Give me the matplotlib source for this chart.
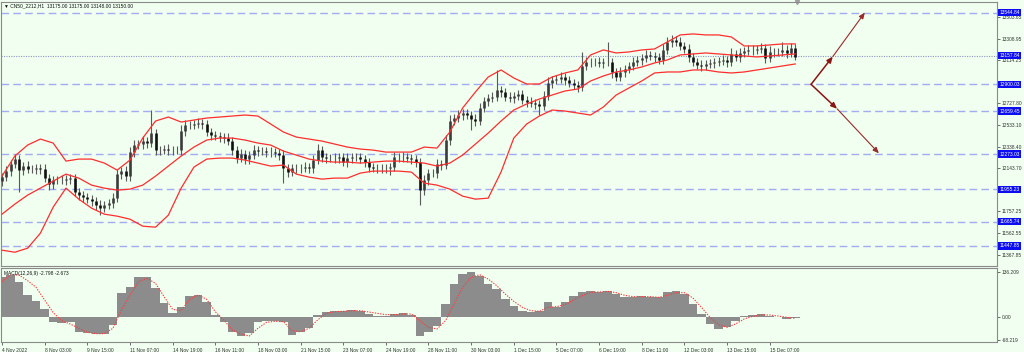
import numpy as np
import matplotlib.pyplot as plt
import matplotlib.transforms as mtrans

plt.rcParams['font.family'] = ['Liberation Sans', 'DejaVu Sans']

# ---- data (CN50_2212, H1, shown as 4-hour steps) ----
open0 = 12030
closes = [
    12066, 12120, 12183, 12228, 12129, 12165, 12138, 12138, 12147, 12138,
    12057, 12003, 12039, 12039, 12039, 12048, 12057, 11931, 11904, 11886,
    11868, 11850, 11814, 11787, 11814, 11832, 11877, 12093, 12120, 12075,
    12291, 12354, 12363, 12390, 12372, 12462, 12309, 12309, 12318, 12309,
    12309, 12309, 12480, 12534, 12534, 12543, 12552, 12543, 12471, 12444,
    12435, 12426, 12417, 12390, 12309, 12237, 12273, 12228, 12264, 12309,
    12300, 12300, 12291, 12291, 12282, 12264, 12147, 12111, 12147, 12147,
    12147, 12156, 12147, 12219, 12309, 12246, 12237, 12237, 12237, 12246,
    12201, 12237, 12246, 12246, 12228, 12201, 12156, 12147, 12147, 12147,
    12147, 12156, 12246, 12246, 12246, 12237, 12228, 12201, 11949, 12039,
    12102, 12102, 12183, 12174, 12399, 12570, 12597, 12624, 12642, 12624,
    12588, 12570, 12687, 12750, 12777, 12786, 12849, 12831, 12786, 12777,
    12795, 12813, 12759, 12741, 12732, 12723, 12705, 12795, 12912, 12939,
    12948, 12966, 12939, 12912, 12894, 12876, 13065, 13101, 13101, 13101,
    13092, 13101, 13101, 13011, 12966, 13011, 13038, 13065, 13101, 13119,
    13137, 13164, 13155, 13146, 13119, 13209, 13281, 13299, 13281, 13245,
    13218, 13146, 13101, 13074, 13065, 13083, 13092, 13101, 13110, 13119,
    13101, 13173, 13146, 13182, 13200, 13209, 13209, 13218, 13227, 13137,
    13191, 13191, 13191, 13209, 13182, 13227, 13150]
wick_up = [
    38, 42, 35, 45, 40, 38, 44, 35, 40, 38,
    42, 35, 40, 38, 45, 35, 38, 40, 35, 38,
    40, 35, 38, 42, 35, 40, 45, 50, 38, 45,
    50, 42, 38, 45, 40, 207, 35, 40, 38, 42,
    35, 40, 50, 45, 40, 38, 42, 40, 35, 38,
    40, 35, 38, 42, 40, 35, 45, 38, 40, 42,
    35, 40, 38, 42, 35, 40, 45, 38, 35, 40,
    38, 42, 35, 50, 56, 40, 38, 35, 42, 40,
    38, 45, 40, 35, 38, 40, 35, 38, 40, 35,
    38, 40, 50, 38, 42, 35, 38, 40, 35, 45,
    40, 38, 42, 40, 45, 50, 40, 42, 38, 40,
    35, 42, 45, 40, 38, 42, 180, 40, 38, 42,
    40, 35, 38, 40, 42, 35, 38, 45, 50, 40,
    38, 42, 40, 35, 38, 40, 126, 45, 40, 38,
    42, 40, 180, 38, 40, 42, 38, 40, 45, 38,
    40, 42, 38, 35, 40, 50, 45, 42, 38, 40,
    38, 40, 35, 38, 42, 40, 38, 35, 40, 42,
    38, 50, 40, 45, 38, 40, 42, 38, 40, 35,
    50, 40, 38, 72, 40, 45, 38]
wick_dn = [
    40, 35, 42, 38, 200, 40, 35, 38, 42, 40,
    38, 55, 40, 35, 38, 42, 40, 38, 45, 40,
    38, 42, 40, 63, 38, 35, 40, 38, 42, 40,
    45, 40, 38, 42, 40, 38, 45, 40, 38, 42,
    40, 38, 42, 40, 38, 35, 40, 42, 38, 40,
    38, 40, 42, 38, 45, 40, 38, 42, 40, 38,
    40, 38, 42, 40, 38, 45, 135, 40, 38, 42,
    40, 38, 42, 40, 38, 45, 40, 38, 42, 40,
    38, 42, 40, 38, 35, 40, 42, 38, 40, 42,
    40, 63, 38, 42, 40, 38, 42, 40, 135, 45,
    40, 38, 42, 40, 38, 42, 40, 38, 45, 40,
    99, 42, 40, 38, 42, 40, 38, 42, 40, 38,
    42, 40, 38, 45, 40, 42, 81, 40, 38, 42,
    40, 38, 42, 40, 38, 45, 40, 38, 42, 40,
    38, 42, 40, 54, 40, 38, 42, 40, 38, 40,
    42, 40, 38, 42, 40, 40, 38, 42, 40, 38,
    40, 42, 38, 40, 42, 38, 40, 42, 38, 40,
    42, 38, 40, 42, 38, 40, 42, 38, 40, 45,
    40, 42, 38, 40, 42, 38, 31]

# Bollinger bands (20, 2), one value every 3 steps
bb_upper = [
    12075, 12255, 12354, 12408, 12372, 12210, 12228, 12228, 12192, 12129,
    12219, 12417, 12570, 12606, 12561, 12579, 12597, 12606, 12615, 12624,
    12615, 12543, 12471, 12426, 12408, 12390, 12363, 12336, 12318, 12309,
    12291, 12291, 12291, 12336, 12327, 12471, 12687, 12831, 12966, 13029,
    12957, 12903, 12903, 12966, 13002, 13029, 13164, 13209, 13182, 13191,
    13209, 13218, 13281, 13344, 13353, 13344, 13344, 13326, 13245, 13245,
    13254, 13263, 13263]
bb_mid = [
    11733, 11823, 11904, 11967, 12030, 12093, 12057, 11994, 11967, 11949,
    11958, 11994, 12075, 12165, 12255, 12336, 12399, 12417, 12417, 12399,
    12372, 12354, 12300, 12264, 12228, 12210, 12201, 12201, 12192, 12201,
    12210, 12210, 12201, 12192, 12165, 12192, 12264, 12363, 12462, 12570,
    12669, 12723, 12768, 12804, 12840, 12858, 12930, 12975, 13011, 13029,
    13056, 13092, 13119, 13164, 13173, 13182, 13173, 13164, 13155, 13146,
    13155, 13164, 13173]
bb_lower = [
    11409, 11391, 11427, 11562, 11796, 11967, 11868, 11787, 11733, 11715,
    11688, 11625, 11616, 11724, 11967, 12156, 12228, 12237, 12237, 12219,
    12192, 12165, 12174, 12093, 12066, 12048, 12057, 12057, 12102, 12120,
    12120, 12120, 12111, 12012, 11994, 11958, 11895, 11868, 11877, 12111,
    12417, 12543, 12615, 12669, 12660, 12642, 12624, 12696, 12804, 12867,
    12930, 13002, 13011, 13011, 13029, 13029, 13011, 13002, 13011, 13029,
    13047, 13065, 13083]

# MACD (12,26,9), one value every 2 steps
macd = [
    122, 127, 107, 67, 50, 24, -13, -18, -13, -43,
    -48, -50, -50, -23, 72, 92, 122, 120, 87, 42,
    14, 32, 64, 67, 47, 7, -13, -43, -56, -48,
    -13, -11, -11, -13, -53, -43, -31, 7, 17, 19,
    20, 22, 18, 10, 5, 5, 10, 12, 8, -55,
    -45, -25, 40, 100, 130, 135, 125, 100, 85, 55,
    35, 20, 15, 20, 45, 30, 45, 65, 75, 80,
    75, 80, 70, 60, 60, 65, 60, 60, 75, 80,
    70, 40, 10, -20, -35, -30, -10, 5, 8, 10,
    5, 2, -5, -3]
signal = [
    107, 127, 127, 110, 90, 52, 14, -10, -20, -33,
    -45, -49, -49, -33, 22, 67, 107, 117, 102, 62,
    24, 20, 54, 67, 54, 17, -8, -38, -50, -56,
    -33, -15, -12, -13, -40, -43, -33, -8, 12, 17,
    18, 20, 20, 16, 12, 8, 8, 10, 10, -10,
    -30, -35, -10, 40, 90, 120, 128, 115, 95, 70,
    48, 30, 20, 18, 30, 32, 38, 52, 65, 75,
    76, 78, 74, 66, 62, 62, 62, 60, 66, 74,
    74, 58, 30, 0, -22, -30, -20, -5, 3, 7,
    7, 4, 0, -3]

levels = [13544.84, 12900.03, 12659.45, 12273.03, 11955.23, 11665.74, 11447.85]
bid_level = 13157.84
price_ticks = [13503.65, 13308.95, 13114.25, 12727.80, 12533.10,
               12338.40, 12143.70, 11757.25, 11562.55, 11367.85]
macd_ticks = [136.209, 0.0, -68.219]
macd_tick_labels = ['136.209', '0.00', '-68.219']
time_labels = ['4 Nov 2022', '8 Nov 03:00', '9 Nov 15:00', '11 Nov 07:00',
               '14 Nov 19:00', '16 Nov 11:00', '18 Nov 03:00', '21 Nov 15:00',
               '23 Nov 07:00', '24 Nov 19:00', '28 Nov 11:00', '30 Nov 03:00',
               '1 Dec 15:00', '5 Dec 07:00', '6 Dec 19:00', '8 Dec 11:00',
               '12 Dec 03:00', '13 Dec 15:00', '15 Dec 07:00']

# scenario arrows (time step, price)
arrow_up_t = [189.7, 194.8, 202.3]
arrow_up_p = [12900, 13150, 13545]
arrow_dn_t = [189.7, 195.8, 205.6]
arrow_dn_p = [12900, 12680, 12280]

bg = '#f0fff0'
lvl_col = '#a3acf2'
fs = 3.5

cl = np.array(closes, dtype=float)
op = np.concatenate([[open0], cl[:-1]])
hi = np.maximum(op, cl) + np.array(wick_up)
lo = np.minimum(op, cl) - np.array(wick_dn)
idx = np.arange(len(cl))

fig = plt.figure(figsize=(10.24, 3.52), dpi=100, facecolor=bg)
W, H = 1024, 352
ax = fig.add_axes([1 / W, 1 - 266 / H, 996 / W, 264 / H], facecolor=bg)
ax2 = fig.add_axes([1 / W, 1 - 342 / H, 996 / W, 74 / H], facecolor=bg)
xlim = (-1 / 4.265, 995 / 4.265)

# levels
for lv in levels:
    ax.axhline(lv, color=lvl_col, lw=1.0, ls=(0, (5.5, 3)), zorder=1)
ax.axhline(bid_level, color='#8f96c8', lw=0.8, ls=(0, (1, 1.2)), zorder=1)

# candles
ax.vlines(idx, lo, hi, color='#5a5a5a', lw=0.8, zorder=2)
up = cl >= op
ax.vlines(idx[up], op[up], cl[up], color='#3c3c3c', lw=1.9, zorder=3)
ax.vlines(idx[~up], cl[~up], op[~up], color='#111111', lw=1.9, zorder=3)

# bands
bx = np.arange(0, len(cl), 3)
for band in (bb_upper, bb_mid, bb_lower):
    ax.plot(bx, band, color='#ff2d2d', lw=0.9, zorder=4)

# arrows
arr_col = '#8b1414'
for tt, pp in ((arrow_up_t, arrow_up_p), (arrow_dn_t, arrow_dn_p)):
    ax.annotate('', xy=(tt[1], pp[1]), xytext=(tt[0], pp[0]),
                arrowprops=dict(arrowstyle='-|>,head_length=0.35,head_width=0.15',
                                color=arr_col, lw=1.1, shrinkA=0, shrinkB=0), zorder=5)
    ax.annotate('', xy=(tt[2], pp[2]), xytext=(tt[1], pp[1]),
                arrowprops=dict(arrowstyle='-|>,head_length=0.35,head_width=0.15',
                                color='#9a2a2a', lw=0.8, shrinkA=0, shrinkB=0), zorder=5)

ax.set_xlim(*xlim)
ax.set_ylim(11267, 13640)
ax.set_xticks([])
ax.yaxis.tick_right()
ax.set_yticks(price_ticks)
ax.set_yticklabels([f'{t:.2f}' for t in price_ticks])
ax.tick_params(axis='y', labelsize=fs, length=2.5, width=0.5, pad=1,
               colors='#333333')

tr = mtrans.blended_transform_factory(ax.transAxes, ax.transData)
for lv in levels + [bid_level]:
    ax.text(1.0 + 2.5 / 996, lv, f'{lv:.2f}', transform=tr, ha='left', va='center',
            fontsize=fs, color='white', clip_on=False, zorder=10,
            bbox=dict(boxstyle='square,pad=0.25', fc='#0d0df2', ec='none'))

ax.text(3 / 996, 1 - 1.5 / 264, '\u25bc CN50_2212,H1  13175.00 13175.00 13148.00 13150.00',
        transform=ax.transAxes, fontsize=fs, va='top', ha='left', color='#111111')
ax.plot([(797 - 2) / 4.265], [1.0], marker='v', ms=3, color='#a0a0a0',
        transform=mtrans.blended_transform_factory(ax.transData, ax.transAxes),
        clip_on=False)

# MACD panel
mx = np.arange(0, len(cl), 2)
ax2.bar(mx, macd, width=2.0, color='#8c8c8c', linewidth=0, zorder=2)
ax2.plot(mx, signal, color='#ff3b3b', lw=0.8, ls=(0, (1.2, 1.2)), zorder=3)
ax2.set_xlim(*xlim)
ax2.set_ylim(-74, 148)
ax2.yaxis.tick_right()
ax2.set_yticks(macd_ticks)
ax2.set_yticklabels(macd_tick_labels)
ax2.tick_params(axis='y', labelsize=fs, length=2.5, width=0.5, pad=1,
                colors='#333333')
ax2.set_xticks(np.arange(0, 10 * len(time_labels), 10))
ax2.set_xticklabels(time_labels, ha='left')
ax2.tick_params(axis='x', labelsize=fs, length=2.5, width=0.5, pad=1.5,
                colors='#333333')
ax2.text(3 / 996, 0.96, 'MACD(12,26,9) -2.798 -2.673', transform=ax2.transAxes,
         fontsize=fs, va='top', ha='left', color='#111111')

for a in (ax, ax2):
    for s in a.spines.values():
        s.set_color('#8a8a8a')
        s.set_linewidth(0.8)

fig.savefig('out.png', dpi=100, facecolor=bg)
